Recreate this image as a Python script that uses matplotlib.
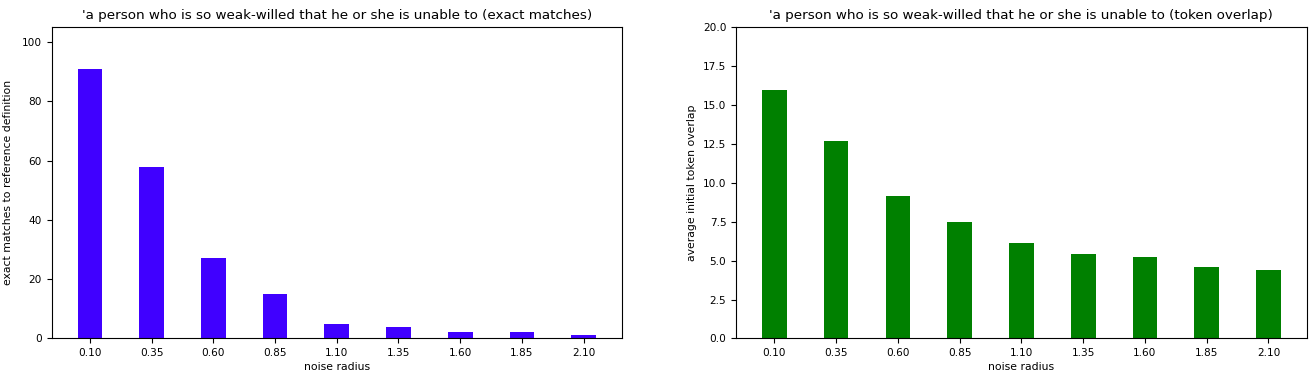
import matplotlib
matplotlib.use('Agg')
import matplotlib.pyplot as plt

# radios de ruido y resultados
radios = [0.10, 0.35, 0.60, 0.85, 1.10, 1.35, 1.60, 1.85, 2.10]
etiquetas = ['0.10', '0.35', '0.60', '0.85', '1.10', '1.35', '1.60', '1.85', '2.10']
exactas = [91, 58, 27, 15, 5, 4, 2, 2, 1]
solapamiento = [16.0, 12.68, 9.13, 7.5, 6.12, 5.46, 5.26, 4.58, 4.37]

frase = "'a person who is so weak-willed that he or she is unable to"

plt.rcParams['font.size'] = 7.8
plt.rcParams['xtick.labelsize'] = 7.6
plt.rcParams['ytick.labelsize'] = 7.6

fig = plt.figure(figsize=(13.16, 3.76), dpi=100)
ax1 = fig.add_axes([0.0392, 0.100, 0.4334, 0.827])
ax2 = fig.add_axes([0.5593, 0.100, 0.4337, 0.827])

# izquierda: coincidencias exactas
ax1.bar(radios, exactas, width=0.1, color='#4000ff')
ax1.set_xticks(radios)
ax1.set_xticklabels(etiquetas)
ax1.set_ylim(0, 105)
ax1.set_xlabel('noise radius', labelpad=3)
ax1.set_ylabel('exact matches to reference definition', labelpad=6.5)
ax1.set_title(frase + ' (exact matches)', fontsize=9.7, pad=6)

# derecha: solapamiento de tokens
ax2.bar(radios, solapamiento, width=0.1, color='green')
ax2.set_xticks(radios)
ax2.set_xticklabels(etiquetas)
ax2.set_ylim(0, 20)
ax2.set_xlabel('noise radius', labelpad=3)
ax2.set_ylabel('average initial token overlap', labelpad=4)
ax2.set_title(frase + ' (token overlap)', fontsize=9.7, pad=6)

fig.savefig('out.png', dpi=100)
